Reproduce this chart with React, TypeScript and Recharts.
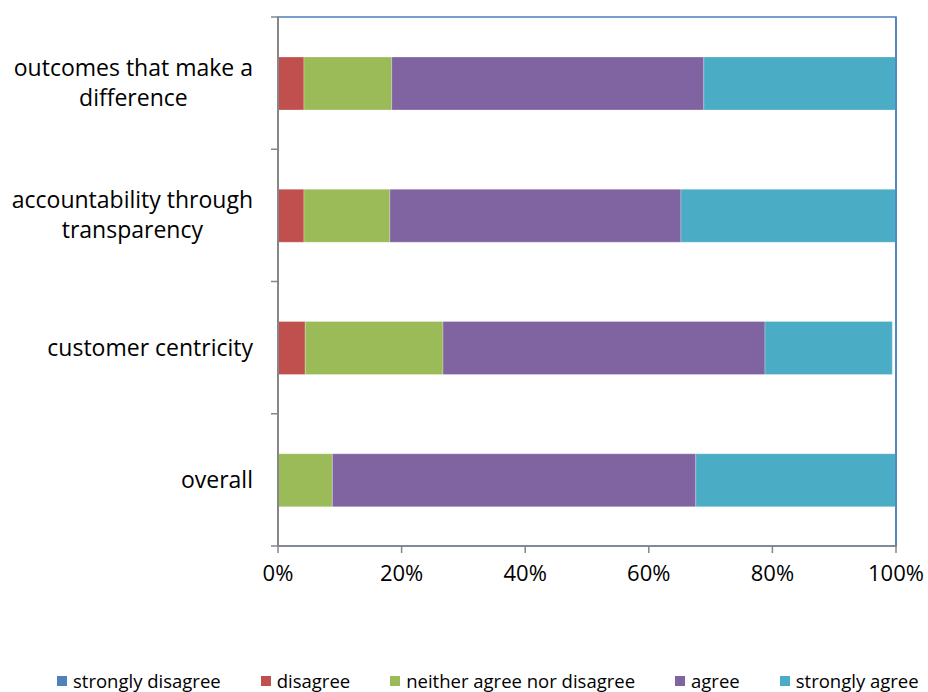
import { BarChart, Bar, XAxis, YAxis, ReferenceLine, ReferenceArea } from 'recharts';

const categories = [
  'outcomes that make a\ndifference',
  'accountability through\ntransparency',
  'customer centricity',
  'overall',
];

const stronglyDisagree = [0, 0, 0, 0];
const disagree = [0.042, 0.042, 0.044, 0];
const neitherAgree = [0.142, 0.139, 0.223, 0.088];
const agree = [0.505, 0.471, 0.521, 0.588];
const stronglyAgree = [0.311, 0.348, 0.206, 0.324];

const xTicks = [0, 0.2, 0.4, 0.6, 0.8, 1];

const seriesList = [
  { key: 'stronglyDisagree', label: 'strongly disagree', color: '#4F81BD', values: stronglyDisagree },
  { key: 'disagree', label: 'disagree', color: '#C0504D', values: disagree },
  { key: 'neither', label: 'neither agree nor disagree', color: '#9BBB59', values: neitherAgree },
  { key: 'agree', label: 'agree', color: '#8064A2', values: agree },
  { key: 'stronglyAgree', label: 'strongly agree', color: '#4BACC6', values: stronglyAgree },
];

const data = categories.map((name, i) => {
  const row: Record<string, string | number> = { name };
  seriesList.forEach((s) => {
    row[s.key] = s.values[i];
  });
  return row;
});

const FONT = '"Open Sans", sans-serif';
const AXIS_GRAY = '#868686';
const BORDER_BLUE = '#4A7EBB';
const LABEL_SIZE = 23;

// measure label lines so multi-line labels are centred on their widest line
let measureCtx: CanvasRenderingContext2D | null = null;
const textWidth = (s: string) => {
  if (!measureCtx) measureCtx = document.createElement('canvas').getContext('2d');
  if (!measureCtx) return s.length * 11;
  measureCtx.font = `${LABEL_SIZE}px ${FONT}`;
  return measureCtx.measureText(s).width;
};

const CategoryTick = (props: any) => {
  const { x, y, payload, index, visibleTicksCount } = props;
  const lines: string[] = String(payload.value).split('\n');
  const half = payload.offset || 0;
  const axisX = x + 25;
  const lineH = 30;
  const startY = y - ((lines.length - 1) * lineH) / 2;
  const maxW = Math.max(...lines.map(textWidth));
  const cx = x - maxW / 2;
  return (
    <g>
      <line x1={axisX - 7} x2={axisX} y1={y - half} y2={y - half} stroke={AXIS_GRAY} strokeWidth={1.5} />
      {index === visibleTicksCount - 1 && (
        <line x1={axisX - 7} x2={axisX} y1={y + half} y2={y + half} stroke={AXIS_GRAY} strokeWidth={1.5} />
      )}
      <text x={cx} y={startY} textAnchor="middle" fontSize={LABEL_SIZE} fontFamily={FONT} fill="#000">
        {lines.map((l, i) => (
          <tspan key={i} x={cx} dy={i === 0 ? 8 : lineH}>
            {l}
          </tspan>
        ))}
      </text>
    </g>
  );
};

export default function App() {
  return (
    <div style={{ position: 'absolute', left: 0, top: 0, width: 928, height: 692, background: '#fff' }}>
      <BarChart
        width={928}
        height={620}
        data={data}
        layout="vertical"
        margin={{ top: 17, right: 32, left: 0, bottom: 34 }}
      >
        <ReferenceArea x1={0} x2={1} fill="none" stroke={BORDER_BLUE} strokeWidth={1.5} fillOpacity={0} />
        <XAxis
          type="number"
          domain={[0, 1]}
          ticks={xTicks}
          allowDataOverflow
          tickFormatter={(v: number) => `${Math.round(v * 100)}%`}
          tick={{ fontSize: 22, fontFamily: FONT, fill: '#000' }}
          axisLine={{ stroke: AXIS_GRAY, strokeWidth: 1.5 }}
          tickLine={{ stroke: AXIS_GRAY, strokeWidth: 1.5 }}
          tickSize={7}
          tickMargin={12}
          height={40}
        />
        <YAxis
          type="category"
          dataKey="name"
          width={278}
          tick={<CategoryTick />}
          tickLine={false}
          tickSize={7}
          tickMargin={18}
          axisLine={{ stroke: AXIS_GRAY, strokeWidth: 2 }}
          interval={0}
        />
        <ReferenceLine x={1} stroke={BORDER_BLUE} strokeWidth={1.5} />
        {seriesList.map((s) => (
          <Bar
            key={s.key}
            dataKey={s.key}
            stackId="a"
            fill={s.color}
            barSize={53}
            stroke="#ffffff"
            strokeOpacity={0.5}
            strokeWidth={0.5}
            isAnimationActive={false}
          />
        ))}
      </BarChart>
      <div
        style={{
          position: 'absolute',
          top: 670,
          left: 57,
          display: 'flex',
          gap: 40,
          fontFamily: FONT,
          fontSize: 18.5,
          lineHeight: '22px',
          color: '#000',
          whiteSpace: 'nowrap',
        }}
      >
        {seriesList.map((s) => (
          <div key={s.key} style={{ display: 'flex', alignItems: 'center' }}>
            <span style={{ display: 'inline-block', width: 10, height: 10, background: s.color, marginRight: 6 }} />
            <span>{s.label}</span>
          </div>
        ))}
      </div>
    </div>
  );
}
